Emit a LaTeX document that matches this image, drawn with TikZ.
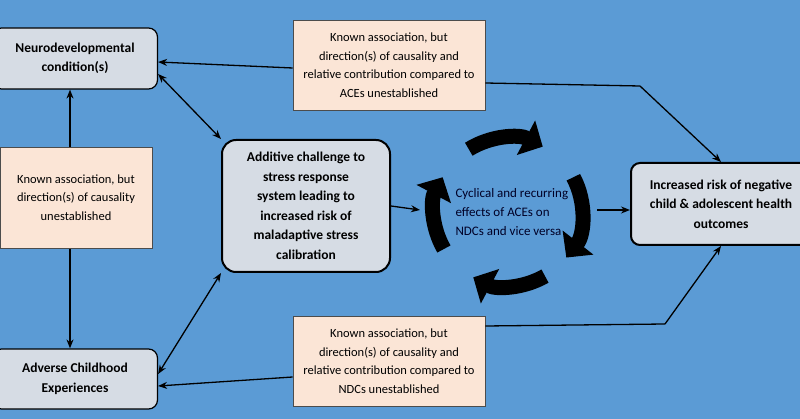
\documentclass[tikz,border=0pt]{standalone}
\usepackage{fontspec}
\setmainfont{Carlito}
\usetikzlibrary{arrows.meta}
\definecolor{bg}{HTML}{5B9BD5}
\definecolor{gbox}{HTML}{D6DCE4}
\definecolor{pbox}{HTML}{FBE5D6}
\begin{document}
\begin{tikzpicture}[x=1pt,y=-1pt,
  gnode/.style={draw=black,fill=gbox,rounded corners=9pt,line width=1.2pt,align=center,font=\fontsize{13.5}{19.5}\selectfont\bfseries,inner sep=0pt},
  pnode/.style={draw=black!70,fill=pbox,line width=0.6pt,align=center,font=\fontsize{12.5}{18.5}\selectfont,inner sep=0pt},
  arr/.style={line width=1.3pt,-{Stealth[length=9pt,width=7pt]}},
  darr/.style={line width=1.3pt,{Stealth[length=9pt,width=7pt]}-{Stealth[length=9pt,width=7pt]}},
  carr/.style={line width=15pt,-{Triangle[length=19pt,width=38pt]}}]
\useasboundingbox (0,0) rectangle (800,419);
\fill[bg] (0,0) rectangle (800,419);
\node[gnode,minimum width=165pt,minimum height=61pt] (neuro) at (75,58.5) {Neurodevelopmental\\condition(s)};
\node[gnode,minimum width=165pt,minimum height=60pt] (ace) at (75,379) {Adverse Childhood\\Experiences};
\draw[darr] (neuro.south -| 70,0) -- (ace.north -| 70,0);
\node[gnode,line width=2pt,rounded corners=14pt,minimum width=168pt,minimum height=132pt] (add) at (306,206) {Additive challenge to\\stress response\\system leading to\\increased risk of\\maladaptive stress\\calibration};
\node[gnode,line width=2pt,minimum width=180pt,minimum height=82pt,anchor=west] (inc) at (630,204) {Increased risk of negative\\child \& adolescent health\\outcomes};
\node[pnode,minimum width=192pt,minimum height=90pt] (top) at (389,65) {Known association, but\\direction(s) of causality and\\relative contribution compared to\\ACEs unestablished};
\node[pnode,minimum width=152pt,minimum height=101pt] (left) at (76,197.5) {Known association, but\\direction(s) of causality\\unestablished};
\node[pnode,minimum width=192pt,minimum height=90pt] (bot) at (389,361) {Known association, but\\direction(s) of causality and\\relative contribution compared to\\NDCs unestablished};
\coordinate (cc) at (508,212);
\node[align=left,font=\fontsize{13}{19}\selectfont,anchor=west,text=black!85!blue] (cyc) at (452,212) {Cyclical and recurring\\effects of ACEs on\\NDCs and vice versa};
% cycle arrows
\begin{scope}[shift={(cc)},y=1pt]
\draw[carr] (122:74) arc[start angle=122,end angle=62,radius=74];
\draw[carr] (28:74) arc[start angle=28,end angle=-38,radius=74];
\draw[carr] (-60:74) arc[start angle=-60,end angle=-118,radius=74];
\draw[carr] (-150:74) arc[start angle=210,end angle=152,radius=74];
\end{scope}
% connectors
\draw[arr] (top.west |- 0,68) -- (neuro.east |- 0,62);
\draw[arr] (bot.west |- 0,377) -- (ace.east |- 0,386);
\draw[darr] (neuro.east |- 0,74) -- (add.north west);
\draw[darr] (ace.east |- 0,374) -- (add.south west);
\draw[line width=1.3pt] (top.east |- 0,83) -- (640,86);
\draw[arr] (640,86) -- (inc.north);
\draw[line width=1.3pt] (bot.east |- 0,326) -- (665,324);
\draw[arr] (665,324) -- (inc.south);
\draw[arr] (add.east) -- (420,210);
\draw[arr] (597,210) -- (inc.west |- 0,210);
\end{tikzpicture}
\end{document}
